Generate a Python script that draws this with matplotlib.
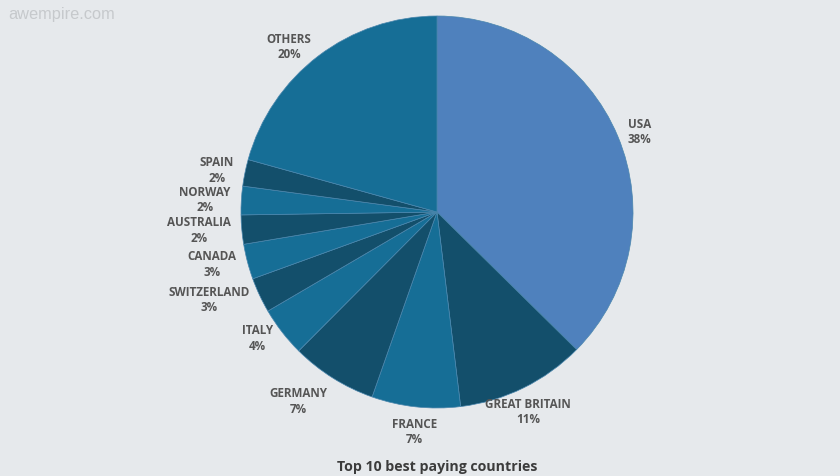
import numpy as np
import matplotlib.pyplot as plt

countries = ['USA', 'GREAT BRITAIN', 'FRANCE', 'GERMANY', 'ITALY', 'SWITZERLAND',
             'CANADA', 'AUSTRALIA', 'NORWAY', 'SPAIN', 'OTHERS']
shares = [37.4, 10.7, 7.3, 7.1, 4.1, 2.9, 2.9, 2.4, 2.35, 2.2, 20.7]
labels = ['38%', '11%', '7%', '7%', '4%', '3%', '3%', '2%', '2%', '2%', '20%']
colors = ['#4f81bd', '#134f6b', '#166e96', '#134f6b', '#166e96', '#134f6b',
          '#166e96', '#134f6b', '#166e96', '#134f6b', '#166e96']

bg = '#e6e9ec'
W, H = 840, 476
cx, cy, r = 437, H - 212, 196

fig = plt.figure(figsize=(8.4, 4.76), dpi=100, facecolor=bg)
ax = fig.add_axes([0, 0, 1, 1])
ax.set_facecolor(bg)

ax.pie(shares, colors=colors, startangle=90, counterclock=False,
       center=(cx, cy), radius=r,
       wedgeprops=dict(edgecolor='#4a86ad', linewidth=0.5))

# labels outside, along the middle of each wedge
cum = np.cumsum([0] + shares[:-1])
total = sum(shares)
dist = r + 11
for name, lab, start, val in zip(countries, labels, cum, shares):
    theta = np.deg2rad((start + val / 2) / total * 360)  # clockwise from top
    s, c = np.sin(theta), np.cos(theta)
    x = cx + dist * s
    y = cy + dist * c
    if abs(s) < 0.5:
        ha = 'center'
    else:
        ha = 'left' if s > 0 else 'right'
    va = 'top' if c < -0.7 else 'center'
    ax.text(x, y, name + '\n' + lab, ha=ha, va=va, multialignment='center',
            fontsize=8.4, fontweight='bold', color='#555555',
            family='Open Sans', linespacing=1.25)

ax.text(437, H - 467, 'Top 10 best paying countries', ha='center', va='center',
        fontsize=10.2, fontweight='bold', color='#3c3c3c', family='Open Sans')
ax.text(8, H - 14, 'awempire.com', ha='left', va='center',
        fontsize=11.8, color='#c6c9cc', family='Liberation Sans')

ax.set_xlim(0, W)
ax.set_ylim(0, H)
ax.set_aspect('equal')
ax.axis('off')

fig.savefig('out.png', dpi=100, facecolor=bg)
